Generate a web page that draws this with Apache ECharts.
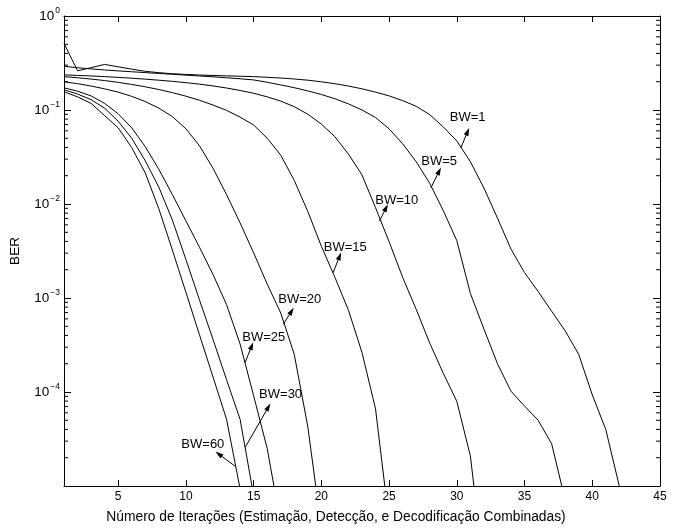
<!DOCTYPE html>
<html>
<head>
<meta charset="utf-8">
<script src="https://cdn.jsdelivr.net/npm/echarts@6/dist/echarts.min.js"></script>
<style>
html,body{margin:0;padding:0;background:#fff;}
#chart{width:678px;height:529px;}
</style>
</head>
<body>
<div id="chart"></div>
<script>
// Iterations (x) start at 1 for every curve
const xTicks = [5, 10, 15, 20, 25, 30, 35, 40, 45];
const seriesNames = ['BW=1', 'BW=5', 'BW=10', 'BW=15', 'BW=20', 'BW=25', 'BW=30', 'BW=60'];

const berBW1 = [0.513, 0.261, 0.282, 0.3055, 0.288, 0.272, 0.258, 0.2495, 0.243, 0.239,
  0.2355, 0.233, 0.2307, 0.2286, 0.2265, 0.2228, 0.2188, 0.2138, 0.2075, 0.1995,
  0.1905, 0.1799, 0.1679, 0.1549, 0.1413, 0.1259, 0.1096, 0.0891, 0.0661, 0.0468,
  0.0282, 0.0148, 0.00708, 0.00331, 0.00186, 0.001175, 7.24e-4, 4.47e-4, 2.51e-4, 9.33e-5,
  3.98e-5, 9.9e-6];
const berBW5 = [0.2917, 0.2818, 0.2735, 0.2667, 0.2606, 0.2553, 0.2500, 0.2449, 0.2399, 0.2350,
  0.2301, 0.2254, 0.2203, 0.2148, 0.2089, 0.1972, 0.1849, 0.1726, 0.1596, 0.1462,
  0.1318, 0.1161, 0.1000, 0.0832, 0.0631, 0.0437, 0.0282, 0.0166, 0.00851, 0.00407,
  0.00112, 4.68e-4, 2.0e-4, 1.02e-4, 7.08e-5, 5.01e-5, 2.82e-5, 7.08e-6];
const berBW10 = [0.2366, 0.2333, 0.2301, 0.2265, 0.2223, 0.2178, 0.2128, 0.2075, 0.2018, 0.1954,
  0.1884, 0.1803, 0.1714, 0.1614, 0.1507, 0.1380, 0.1245, 0.1084, 0.0902, 0.0708,
  0.0519, 0.0339, 0.0204, 0.00912, 0.00398, 0.00166, 7.59e-4, 3.31e-4, 1.585e-4, 7.94e-5,
  2.09e-5, 1.26e-6];
const berBW15 = [0.2265, 0.2203, 0.2133, 0.2056, 0.1968, 0.1871, 0.1766, 0.1652, 0.1531, 0.1403,
  0.1268, 0.1130, 0.0991, 0.0841, 0.0692, 0.0501, 0.0331, 0.0178, 0.00832, 0.00355,
  0.00166, 7.41e-4, 2.63e-4, 6.61e-5, 4.17e-6];
const berBW20 = [0.1995, 0.1905, 0.1799, 0.1679, 0.1549, 0.1396, 0.1230, 0.1047, 0.0851, 0.0631,
  0.0417, 0.0240, 0.0126, 0.00631, 0.00302, 0.00141, 6.92e-4, 2.51e-4, 4.27e-5, 3.55e-6];
const berBW25 = [0.1722, 0.1585, 0.1413, 0.1175, 0.0912, 0.0646, 0.0407, 0.0234, 0.0126, 0.00661,
  0.00347, 0.00178, 8.51e-4, 3.24e-4, 9.12e-5, 2.51e-5, 3.98e-6];
const berBW30 = [0.1637, 0.1479, 0.1288, 0.1047, 0.0759, 0.0501, 0.0288, 0.0151, 0.00676, 0.00257,
  9.55e-4, 3.63e-4, 1.35e-4, 5.13e-5, 7.94e-6];
const berBW60 = [0.156, 0.138, 0.1175, 0.0871, 0.0646, 0.0398, 0.0214, 0.00891, 0.00324, 0.00115,
  4.07e-4, 1.445e-4, 5.13e-5, 9.33e-6];

// Annotations in data coordinates: [label, textX, textY, tailX, tailY, headX, headY]
const annotations = [
  ['BW=1', 30.8, 0.0826, 30.3, 0.0398, 30.8, 0.0589],
  ['BW=5', 28.7, 0.0282, 28.08, 0.0148, 28.7, 0.0224],
  ['BW=10', 25.57, 0.01084, 24.29, 0.0066, 24.78, 0.00912],
  ['BW=15', 21.76, 0.00347, 20.87, 0.00186, 21.35, 0.00279],
  ['BW=20', 18.41, 9.66e-4, 17.19, 5.25e-4, 17.8, 7.24e-4],
  ['BW=25', 15.75, 3.8e-4, 14.37, 2.06e-4, 14.86, 3.09e-4],
  ['BW=30', 16.99, 9.33e-5, 14.37, 2.57e-5, 16.09, 6.92e-5],
  ['BW=60', 11.25, 2.79e-5, 13.64, 1.62e-5, 12.42, 2.19e-5]
];

const minorTickValues = [];
[1e-5, 1e-4, 1e-3, 1e-2, 1e-1].forEach(function (d) {
  for (let k = 2; k <= 9; k++) minorTickValues.push(+(k * d).toPrecision(3));
});

const allSeries = [berBW1, berBW5, berBW10, berBW15, berBW20, berBW25, berBW30, berBW60];

const FONT = 'Liberation Sans, Arial, Helvetica, sans-serif';
const X_MIN = 1, X_MAX = 45, Y_MIN = 1e-5, Y_MAX = 1;

function toPairs(arr) {
  return arr.map(function (v, i) { return [i + 1, v]; });
}

const series = allSeries.map(function (arr, i) {
  return {
    name: seriesNames[i],
    type: 'line',
    data: toPairs(arr),
    showSymbol: false,
    symbol: 'none',
    clip: true,
    lineStyle: { color: '#000', width: 1 },
    silent: true,
    z: 3
  };
});

// annotation arrows (attached to first series)
series[0].markLine = {
  silent: true,
  animation: false,
  symbol: ['none', 'triangle'],
  symbolSize: [5, 8],
  label: { show: false },
  lineStyle: { color: '#000', width: 1, type: 'solid' },
  emphasis: { disabled: true },
  data: annotations.map(function (a) {
    return [{ coord: [a[3], a[4]] }, { coord: [a[5], a[6]] }];
  })
};

// annotation texts
series.push({
  type: 'scatter',
  symbol: 'circle',
  symbolSize: 1,
  itemStyle: { color: 'rgba(0,0,0,0)' },
  silent: true,
  data: annotations.map(function (a) { return { name: a[0], value: [a[1], a[2]] }; }),
  label: {
    show: true,
    position: 'inside',
    formatter: function (p) { return p.name; },
    color: '#000',
    opacity: 1,
    fontFamily: FONT,
    fontSize: 13
  },
  z: 5
});

// minor ticks of the log axis (left and right, inward)
series.push({
  type: 'custom',
  silent: true,
  clip: false,
  data: minorTickValues.map(function (v) { return [X_MIN, v]; }),
  encode: { x: 0, y: 1 },
  renderItem: function (params, api) {
    const v = api.value(1);
    const pl = api.coord([X_MIN, v]);
    const pr = api.coord([X_MAX, v]);
    return {
      type: 'group',
      children: [
        { type: 'line', shape: { x1: pl[0], y1: pl[1], x2: pl[0] + 4, y2: pl[1] }, style: { stroke: '#000', lineWidth: 1 } },
        { type: 'line', shape: { x1: pr[0] - 4, y1: pr[1], x2: pr[0], y2: pr[1] }, style: { stroke: '#000', lineWidth: 1 } }
      ]
    };
  },
  z: 4
});

function yLabel(v) {
  const e = Math.round(Math.log10(v));
  if (e <= -5) return '';
  return '{b|10}{s|' + (e === 0 ? '0' : '\u2212' + (-e)) + '}';
}

const option = {
  animation: false,
  backgroundColor: '#fff',
  grid: { left: 61, right: 18, top: 16, bottom: 42, containLabel: false },
  xAxis: [
    {
      type: 'value', min: X_MIN, max: X_MAX, position: 'bottom',
      splitLine: { show: false },
      axisLine: { show: true, onZero: false, lineStyle: { color: '#000', width: 1 } },
      axisTick: { show: true, inside: true, length: 6, customValues: xTicks, lineStyle: { color: '#000' } },
      axisLabel: { show: true, customValues: xTicks, color: '#000', fontFamily: FONT, fontSize: 12, margin: 5 },
      name: 'Número de Iterações (Estimação, Detecção, e Decodificação Combinadas)',
      nameLocation: 'middle',
      nameGap: 24,
      nameTextStyle: { color: '#000', fontFamily: FONT, fontSize: 13.8, padding: [0, 52, 0, 0] }
    },
    {
      type: 'value', min: X_MIN, max: X_MAX, position: 'top',
      splitLine: { show: false },
      axisLine: { show: true, onZero: false, lineStyle: { color: '#000', width: 1 } },
      axisTick: { show: true, inside: true, length: 6, customValues: xTicks, lineStyle: { color: '#000' } },
      axisLabel: { show: false }
    }
  ],
  yAxis: [
    {
      type: 'log', logBase: 10, min: Y_MIN, max: Y_MAX, position: 'left',
      splitLine: { show: false },
      minorTick: { show: false },
      axisLine: { show: true, onZero: false, lineStyle: { color: '#000', width: 1 } },
      axisTick: { show: true, inside: true, length: 7, lineStyle: { color: '#000' } },
      axisLabel: {
        show: true, margin: 4, color: '#000', fontFamily: FONT,
        formatter: yLabel,
        rich: {
          b: { fontSize: 13.5, fontFamily: FONT, color: '#000' },
          s: { fontSize: 8.5, fontFamily: FONT, color: '#000', padding: [0, 0, 11, 1] }
        }
      },
      name: 'BER',
      nameLocation: 'middle',
      nameGap: 42,
      nameRotate: 90,
      nameTextStyle: { color: '#000', fontFamily: FONT, fontSize: 13.5 }
    },
    {
      type: 'log', logBase: 10, min: Y_MIN, max: Y_MAX, position: 'right',
      splitLine: { show: false },
      axisLine: { show: true, onZero: false, lineStyle: { color: '#000', width: 1 } },
      axisTick: { show: true, inside: true, length: 7, lineStyle: { color: '#000' } },
      axisLabel: { show: false }
    }
  ],
  series: series
};

const chart = echarts.init(document.getElementById('chart'), null, { renderer: 'canvas' });
chart.setOption(option);
</script>
</body>
</html>
